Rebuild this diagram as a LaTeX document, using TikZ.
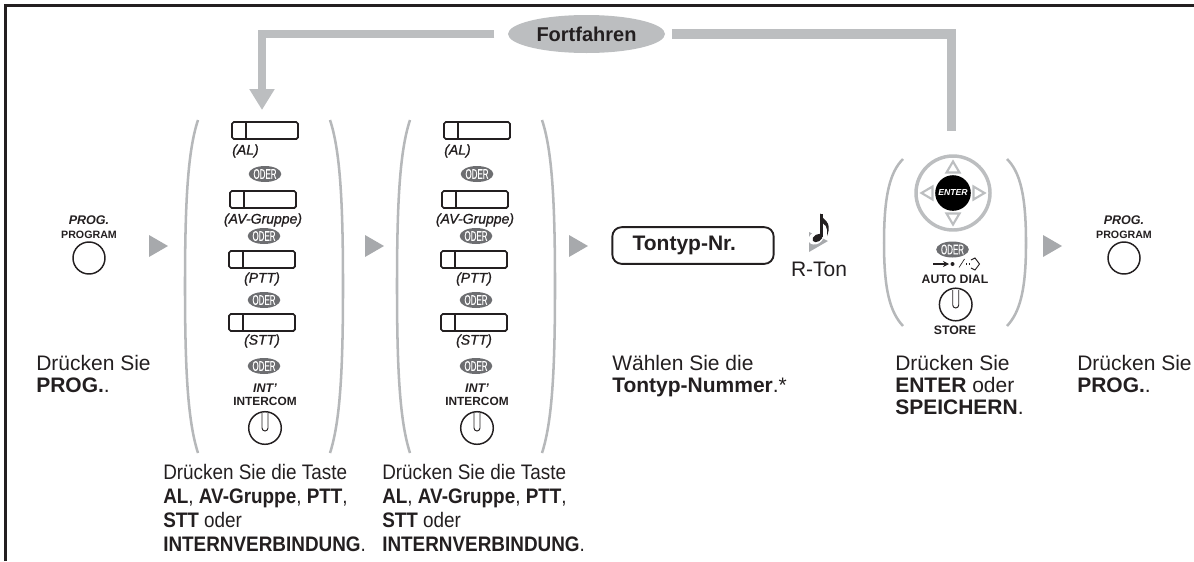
\documentclass[tikz,border=0pt]{standalone}
\usepackage{fontspec}
\setmainfont{Liberation Sans}
\newfontfamily\narrowfont[FakeStretch=0.9]{Liberation Sans}
\newfontfamily\oderfont[FakeStretch=0.57,FakeBold=0.2]{Liberation Sans}
\newfontfamily\keyfont[ItalicFeatures={FakeBold=1}]{Liberation Sans}
\usetikzlibrary{arrows.meta,shapes.geometric}
\definecolor{inkdark}{HTML}{231F20}
\definecolor{barfill}{HTML}{BCBEC0}
\definecolor{stepgray}{HTML}{A7A9AC}
\definecolor{odergray}{HTML}{6D6E71}
\tikzset{
  plaintext/.style = {anchor = north west, inner sep = 0, align = left, text = inkdark, font = \fontsize{15.75}{16.5}\selectfont},
  captext/.style = {anchor = north west, inner sep = 0, align = left, text = inkdark, font = \narrowfont\fontsize{15.75}{18}\selectfont},
  keytext/.style = {inner sep = 0, text = inkdark, font = \keyfont\fontsize{10.5}{11}\selectfont\itshape},
  progtext/.style = {inner sep = 0, text = inkdark, font = \fontsize{9.4}{10}\selectfont\bfseries\itshape},
  nametext/.style = {inner sep = 0, text = inkdark, font = \fontsize{8}{9}\selectfont\bfseries},
  capstext/.style = {inner sep = 0, text = inkdark, font = \fontsize{9.2}{10}\selectfont\bfseries},
  oderpill/.style = {ellipse, fill = odergray, text = white, inner sep = 0, minimum width = 23pt, minimum height = 12pt, font = \oderfont\fontsize{10.5}{10.5}\selectfont},
  keybox/.style = {draw = inkdark, line width = 1.3pt, rounded corners = 1.3pt},
  btn/.style = {draw = inkdark, line width = 1.1pt},
  parenline/.style = {draw = barfill!90!gray, line width = 1.9pt, line cap = butt},
  backbar/.style = {draw = barfill, line width = 6.2pt}
}
\begin{document}
\begin{tikzpicture}[x = 0.75pt, y = -0.75pt]
\useasboundingbox (0,0) rectangle (1194,561);
\draw [inkdark, line width = 2.25pt] (5.5,561) -- (5.5,5.5) -- (1194,5.5);

% loop back
\node [ellipse, fill = barfill, minimum width = 117.75pt, minimum height = 28.5pt, inner sep = 0, text = inkdark, font = \fontsize{15}{16}\selectfont\bfseries] (fort) at (586.5,34) {Fortfahren};
\coordinate (backleft) at (262,34);
\coordinate (backhead) at (262,110);
\coordinate (backright) at (951.5,34);
\coordinate (backend) at (951.5,130.5);
\draw [backbar, shorten <= 10pt, -{Triangle[length = 15.75pt, width = 18pt]}] (fort.west) -- (backleft) -- (backhead);
\draw [backbar, line width = 6.8pt, shorten <= 5pt] (fort.east) -- (backright) -- (backend);

% step arrows
\foreach \x in {149,365,569,1043}{
\fill [stepgray] (\x,235) -- (\x+19,246) -- (\x,257) -- cycle;
}

% program keys
\foreach \x/\t in {89/a,1124/b}{
\node [progtext] (prog\t) at (\x,220) {PROG.};
\node [nametext] (progname\t) at (\x,235) {PROGRAM};
\draw [btn] (\x,258) circle (16);
}

% the two key groups
\foreach \dx/\g in {0/a,212/b}{
\begin{scope}[shift = {(\dx,0)}]
\draw [parenline] (198,120) .. controls (188,150) and (185,200) .. (185,286) .. controls (185,372) and (188,422) .. (198,453);
\draw [parenline] (330,120) .. controls (340,150) and (343,200) .. (343,286) .. controls (343,372) and (340,422) .. (330,453);
\foreach \x/\y in {232/122,230/191,229/251,229/314}{
\draw [keybox] (\x,\y) rectangle (\x+66,\y+17);
\draw [inkdark, line width = 0.9pt] (\x+14,\y) -- (\x+14,\y+17);
}
\node [keytext, anchor = west] (al\g) at (232,151) {(AL)};
\foreach \x/\y/\n/\t in {263/220/av/{(AV-Gruppe)},262/279/ptt/{(PTT)},262/341/stt/{(STT)}}{
\node [keytext] (\n\g) at (\x,\y) {\t};
}
\foreach \x/\y/\n in {265/174/p,264/236/q,264/300/r,264/366/s}{
\node [oderpill] (oder\n\g) at (\x,\y) {ODER};
}
\node [progtext] (int\g) at (265,388) {INT'};
\node [nametext, font = \fontsize{8.9}{10}\selectfont\bfseries] (intercom\g) at (265,401) {INTERCOM};
\draw [btn] (265,428) circle (16.3);
\draw [btn, line width = 0.7pt] (262,413) -- (262,428) arc (180:0:3) -- (268,413);
\end{scope}
}

% number entry
\node [draw = inkdark, line width = 1.4pt, rounded corners = 7pt, minimum width = 121pt, minimum height = 27.5pt, inner sep = 0, text = inkdark, font = \fontsize{15.75}{16}\selectfont\bfseries] (tontyp) at (693,245.5) {Tontyp-Nr.\kern13pt};
\fill [stepgray] (809,232) -- (828,241) -- (809,252) -- cycle;
\fill [white, rotate around = {30:(816,238)}] (816,238) ellipse (8 and 6);
\fill [inkdark, rotate around = {30:(817.5,238)}] (817.5,238) ellipse (5.5 and 3.6);
\draw [inkdark, line width = 2pt] (821.5,237) -- (821.5,214);
\fill [inkdark] (820,213) .. controls (822,221) and (833,220) .. (827,236) .. controls (828,226) and (825,224) .. (820,222) -- cycle;
\node [inner sep = 0, text = inkdark, font = \fontsize{15.75}{16}\selectfont] (rton) at (819,269) {R-Ton};

% enter group
\draw [parenline] (903,159) .. controls (890,172) and (884,195) .. (884,243) .. controls (884,290) and (890,312) .. (903,326);
\draw [parenline] (1007,159) .. controls (1020,172) and (1026,195) .. (1026,243) .. controls (1026,290) and (1020,312) .. (1007,326);
\draw [barfill, line width = 2.6pt] (953,193) circle (37);
\foreach \a in {0,90,180,270}{
\draw [barfill, line width = 1.6pt, rotate around = {\a:(953,193)}] (973.5,186.5) -- (984.5,193) -- (973.5,199.5) -- cycle;
}
\node [circle, fill = black, minimum size = 26.7pt, inner sep = 0, text = white, font = \fontsize{6.5}{7}\selectfont\bfseries\itshape] (enter) at (953,193) {ENTER};
\node [oderpill] (oderenter) at (952.5,249.5) {ODER};
\draw [inkdark, line width = 0.8pt, -{Stealth[length = 4.5pt, width = 4.5pt]}] (933,264) -- (949,264);
\fill [inkdark] (952.5,264) circle (2);
\draw [inkdark, line width = 0.5pt] (959,267.5) -- (964.5,259);
\draw [inkdark, line width = 0.9pt, dash pattern = on 1pt off 1pt] (966,264) -- (971,264);
\draw [inkdark, line width = 0.7pt] (971,260) -- (975,258) -- (979.5,264) -- (975,270) -- (971,268);
\node [capstext] (autodial) at (955,279) {AUTO DIAL};
\draw [btn] (955.7,304.5) circle (16.3);
\draw [btn, line width = 0.7pt] (952.7,290) -- (952.7,305) arc (180:0:3) -- (958.7,290);
\node [capstext] (store) at (955,330) {STORE};

% captions
\node [plaintext] (capa) at (36,355.5) {Drücken Sie\\\textbf{PROG.}.};
\node [captext] (capb) at (163,464.5) {Drücken Sie die Taste\\\textbf{AL}, \textbf{AV-Gruppe}, \textbf{PTT},\\\textbf{STT} oder\\\textbf{INTERNVERBINDUNG}.};
\node [captext] (capc) at (382,464.5) {Drücken Sie die Taste\\\textbf{AL}, \textbf{AV-Gruppe}, \textbf{PTT},\\\textbf{STT} oder\\\textbf{INTERNVERBINDUNG}.};
\node [plaintext] (capd) at (612,355.5) {Wählen Sie die\\\textbf{Tontyp-Nummer}.*};
\node [plaintext] (cape) at (895,355.5) {Drücken Sie\\\textbf{ENTER} oder\\\textbf{SPEICHERN}.};
\node [plaintext] (capf) at (1077,355.5) {Drücken Sie\\\textbf{PROG.}.};
\end{tikzpicture}
\end{document}
